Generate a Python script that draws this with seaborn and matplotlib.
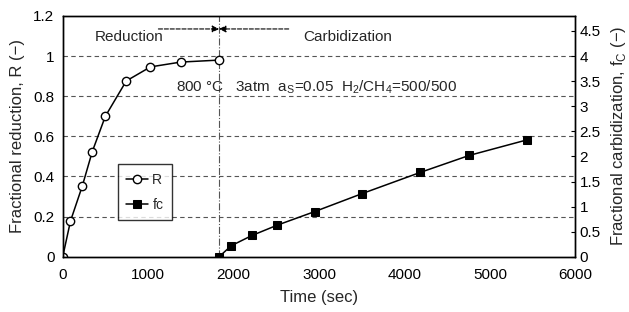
import matplotlib
matplotlib.use("Agg")
import matplotlib.pyplot as plt
import seaborn as sns
import pandas as pd

time_R = [0, 91, 229, 346, 499, 744, 1027, 1381, 1834]
R_vals = [0.0, 0.178, 0.352, 0.524, 0.70, 0.876, 0.946, 0.97, 0.98]
time_fc = [1830, 1972, 2216, 2511, 2948, 3506, 4183, 4758, 5435]
fc_vals = [0.0, 0.22, 0.425, 0.63, 0.90, 1.26, 1.68, 2.02, 2.33]
x_ticks = [0, 1000, 2000, 3000, 4000, 5000, 6000]
left_ticks = [0, 0.2, 0.4, 0.6, 0.8, 1, 1.2]
left_labels = ["0", "0.2", "0.4", "0.6", "0.8", "1", "1.2"]
right_ticks = [0, 0.5, 1, 1.5, 2, 2.5, 3, 3.5, 4, 4.5]
right_labels = ["0", "0.5", "1", "1.5", "2", "2.5", "3", "3.5", "4", "4.5"]

sns.set_style("white")
plt.rcParams['font.family'] = ['Liberation Sans', 'DejaVu Sans']

fig = plt.figure(figsize=(6.29, 3.12), dpi=100)
ax = fig.add_axes([0.0997, 0.177, 0.815, 0.772])
ax2 = ax.twinx()

dfR = pd.DataFrame({"t": time_R, "v": R_vals})
dfF = pd.DataFrame({"t": time_fc, "v": fc_vals})

sns.lineplot(data=dfR, x="t", y="v", ax=ax, color="black", lw=1.1,
             marker="o", markersize=6, markerfacecolor="white",
             markeredgecolor="black", markeredgewidth=1.0, label="R", legend=False)
sns.lineplot(data=dfF, x="t", y="v", ax=ax2, color="black", lw=1.1,
             marker="s", markersize=6, markerfacecolor="black",
             markeredgecolor="black", label="fc", legend=False)

ax.set_xlim(0, 6000)
ax.set_ylim(0, 1.2)
ax2.set_ylim(0, 4.8)
ax.set_xticks(x_ticks)
ax.set_yticks(left_ticks)
ax.set_yticklabels(left_labels)
ax2.set_yticks(right_ticks)
ax2.set_yticklabels(right_labels)

for y in left_ticks[1:-1]:
    ax.axhline(y, color="#555555", lw=0.8, ls=(0, (4, 3)), zorder=0)
ax.axvline(1830, color="#555555", lw=0.8, ls="-.", zorder=0)

for a in (ax, ax2):
    for s in a.spines.values():
        s.set_color("black")
        s.set_linewidth(1.0)
ax.tick_params(axis="x", direction="in", length=3, labelsize=11, pad=8, colors="black")
ax.tick_params(axis="y", length=0, labelsize=11, pad=6, colors="black")
ax2.tick_params(axis="y", direction="in", length=3, labelsize=11, pad=3, colors="black")

ax.set_xlabel("Time (sec)", fontsize=12, labelpad=6)
ax.set_ylabel("Fractional reduction, R (\u2212)", fontsize=12, labelpad=6)
ax2.set_ylabel("Fractional carbidization, f$_\\mathregular{C}$ (\u2212)", fontsize=12, labelpad=6)

ax.annotate("", xy=(1830, 1.135), xytext=(1120, 1.135),
            arrowprops=dict(arrowstyle="-|>", color="black", lw=0.8, ls="--",
                            mutation_scale=10, shrinkA=0, shrinkB=0))
ax.annotate("", xy=(1830, 1.135), xytext=(2645, 1.135),
            arrowprops=dict(arrowstyle="-|>", color="black", lw=0.8, ls="--",
                            mutation_scale=10, shrinkA=0, shrinkB=0))
ax.text(380, 1.095, "Reduction", fontsize=11, va="center", ha="left")
ax.text(2810, 1.095, "Carbidization", fontsize=11, va="center", ha="left")
ax.text(1330, 0.845,
        "800 \u00b0C   3atm  a$_\\mathregular{S}$=0.05  H$_\\mathregular{2}$/CH$_\\mathregular{4}$=500/500",
        fontsize=11, va="center", ha="left")

h1, l1 = ax.get_legend_handles_labels()
h2, l2 = ax2.get_legend_handles_labels()
leg = ax.legend(h1 + h2, l1 + l2, loc="lower left", bbox_to_anchor=(0.107, 0.152),
                borderaxespad=0, frameon=True, fancybox=False, edgecolor="black",
                fontsize=10, handlelength=1.6, borderpad=0.6, labelspacing=0.8,
                handletextpad=0.3)
leg.get_frame().set_linewidth(1.0)

fig.savefig("out.png", dpi=100)
